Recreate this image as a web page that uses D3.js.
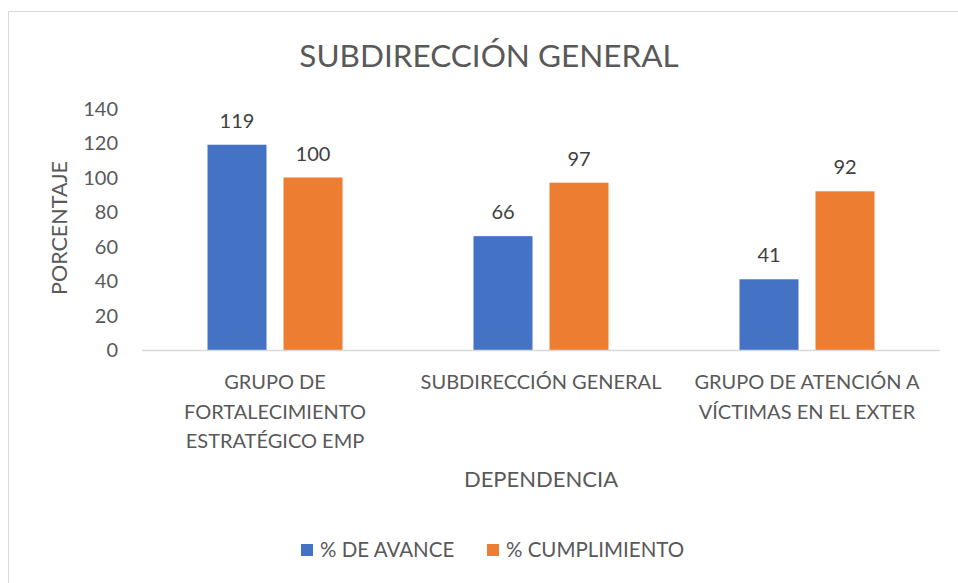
<!DOCTYPE html>
<html>
<head>
<meta charset="utf-8">
<script src="https://cdn.jsdelivr.net/npm/d3@7"></script>
<style>
  body { margin: 0; background: #fff; }
  svg { display: block; font-family: Lato, "Open Sans", sans-serif; }
</style>
</head>
<body>
<div id="root"></div>
<script>
// data
const categories = [
  ['GRUPO DE', 'FORTALECIMIENTO', 'ESTRATÉGICO EMP'],
  ['SUBDIRECCIÓN GENERAL'],
  ['GRUPO DE ATENCIÓN A', 'VÍCTIMAS EN EL EXTER']
];
const series = ['% DE AVANCE', '% CUMPLIMIENTO'];
const avance = [119, 66, 41];
const cumplimiento = [100, 97, 92];
const yTicks = [0, 20, 40, 60, 80, 100, 120, 140];
const colors = ['#4472C4', '#ED7D31'];

const w = 958;
const h = 583;

const svg = d3.select('#root')
  .append('svg')
  .attr('width', w)
  .attr('height', h);

// chart frame (cropped at right and bottom in the reference)
svg.append('rect')
  .attr('x', 8.5)
  .attr('y', 11.5)
  .attr('width', 960)
  .attr('height', 600)
  .attr('fill', 'none')
  .attr('stroke', '#d9d9d9')
  .attr('stroke-width', 1);

const x0 = d3.scaleBand()
  .domain(d3.range(categories.length))
  .range([142, 940]);

const x1 = d3.scaleBand()
  .domain(series)
  .range([65.5, x0.bandwidth() - 65.5])
  .paddingInner(0.2237);

const y = d3.scaleLinear()
  .domain([0, 140])
  .range([350, 108.5]);

// y tick labels
svg.append('g')
  .selectAll('text')
  .data(yTicks)
  .enter()
  .append('text')
  .attr('x', 118)
  .attr('y', d => y(d) + 7)
  .attr('text-anchor', 'end')
  .attr('font-size', '20px')
  .attr('fill', '#595959')
  .text(d => d);

const rows = categories.map((c, i) => ({ i: i, values: [avance[i], cumplimiento[i]] }));

const groups = svg.selectAll('g.cat')
  .data(rows)
  .enter()
  .append('g')
  .attr('class', 'cat')
  .attr('transform', d => 'translate(' + x0(d.i) + ',0)');

groups.selectAll('rect')
  .data(d => d.values.map((v, k) => ({ s: series[k], v: v, k: k })))
  .enter()
  .append('rect')
  .attr('x', d => x1(d.s))
  .attr('y', d => y(d.v))
  .attr('width', x1.bandwidth())
  .attr('height', d => y(0) - y(d.v))
  .attr('fill', d => colors[d.k]);

groups.selectAll('text.val')
  .data(d => d.values.map((v, k) => ({ s: series[k], v: v })))
  .enter()
  .append('text')
  .attr('class', 'val')
  .attr('x', d => x1(d.s) + x1.bandwidth() / 2)
  .attr('y', d => y(d.v) - 17)
  .attr('text-anchor', 'middle')
  .attr('font-size', '20px')
  .attr('fill', '#404040')
  .text(d => d.v);

// baseline
svg.append('line')
  .attr('x1', 142)
  .attr('x2', 940)
  .attr('y1', y(0) + 0.5)
  .attr('y2', y(0) + 0.5)
  .attr('stroke', '#d9d9d9')
  .attr('stroke-width', 1.5);

// category labels
groups.each(function(d) {
  const t = d3.select(this).append('text')
    .attr('text-anchor', 'middle')
    .attr('font-size', '20px')
    .attr('fill', '#595959');
  categories[d.i].forEach((line, j) => {
    t.append('tspan')
      .attr('x', x0.bandwidth() / 2)
      .attr('y', 389 + j * 29.5)
      .text(line);
  });
});

// title
svg.append('text')
  .attr('x', 489)
  .attr('y', 67)
  .attr('text-anchor', 'middle')
  .attr('font-size', '31.5px')
  .attr('fill', '#595959')
  .text('SUBDIRECCIÓN GENERAL');

// axis titles
svg.append('text')
  .attr('transform', 'translate(67,228) rotate(-90)')
  .attr('text-anchor', 'middle')
  .attr('font-size', '21.5px')
  .attr('fill', '#595959')
  .text('PORCENTAJE');

svg.append('text')
  .attr('x', 541)
  .attr('y', 487)
  .attr('text-anchor', 'middle')
  .attr('font-size', '22px')
  .attr('fill', '#595959')
  .text('DEPENDENCIA');

// legend
const legendX = [301, 487];
const legend = svg.selectAll('g.legend')
  .data(series)
  .enter()
  .append('g')
  .attr('class', 'legend')
  .attr('transform', (d, i) => 'translate(' + legendX[i] + ',544)');

legend.append('rect')
  .attr('width', 12)
  .attr('height', 12)
  .attr('fill', (d, i) => colors[i]);

legend.append('text')
  .attr('x', 19)
  .attr('y', 12.5)
  .attr('font-size', '20.5px')
  .attr('fill', '#595959')
  .text(d => d);
</script>
</body>
</html>
